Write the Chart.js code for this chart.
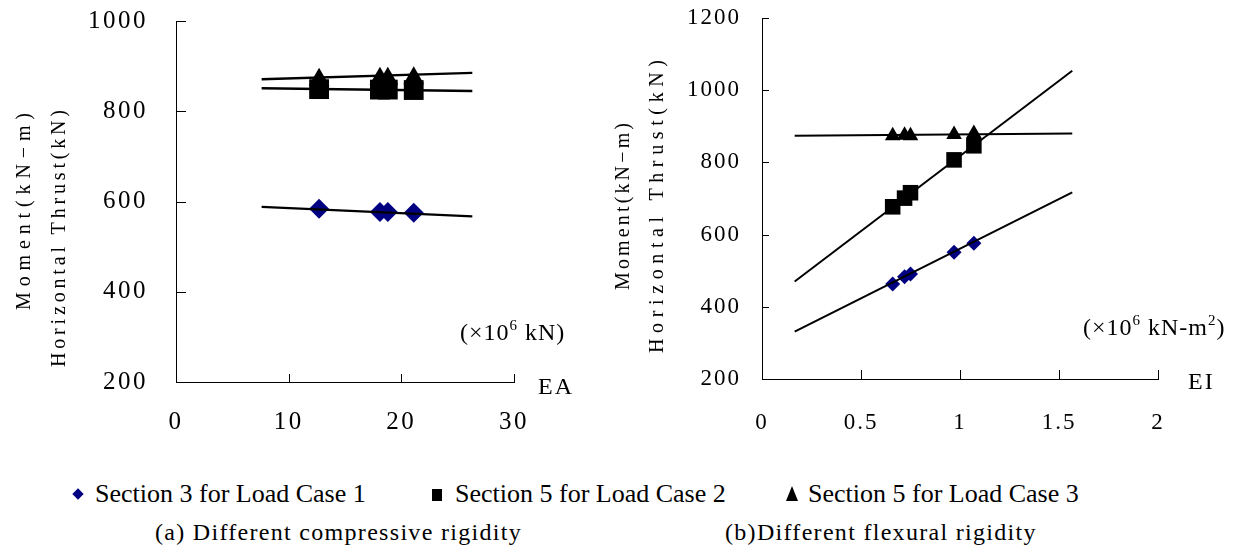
<!DOCTYPE html>
<html><head><meta charset="utf-8">
<script src="https://cdn.jsdelivr.net/npm/chart.js@4"></script>
<style>
html,body{margin:0;padding:0;background:#fff;}
#wrap{position:relative;width:1241px;height:550px;overflow:hidden;font-family:'Liberation Serif','Times New Roman',serif;color:#000;}
canvas{position:absolute;top:0;}
.t{position:absolute;white-space:nowrap;font-family:'Liberation Serif','Times New Roman',serif;}
sup{font-size:15px;vertical-align:10px;line-height:0;}
.unit{font-size:24px;line-height:24px;letter-spacing:1px;}
.axn{font-size:24px;line-height:24px;letter-spacing:2px;}
.leg{font-size:26px;line-height:26px;top:481px;}
.cap{font-size:24px;line-height:24px;letter-spacing:1.3px;top:520px;}
</style></head><body>
<div id="wrap">
<canvas id="cA" width="600" height="450" style="left:0"></canvas>
<canvas id="cB" width="641" height="450" style="left:600px"></canvas>
<div class="t unit" style="left:460px;top:320px">(×10<sup>6</sup> kN)</div>
<div class="t unit" style="left:1083px;top:315px">(×10<sup>6</sup> kN-m<sup>2</sup>)</div>
<div class="t axn" style="left:538px;top:374px">EA</div>
<div class="t axn" style="left:1188px;top:369px">EI</div>
<div class="t" style="left:74px;top:490px;width:8px;height:8px;background:#000080;transform:rotate(45deg)"></div>
<div class="t" style="left:432px;top:489px;width:10px;height:12px;background:#000"></div>
<div class="t" style="left:786px;top:486px;width:0;height:0;border-left:6px solid transparent;border-right:6px solid transparent;border-bottom:15px solid #000"></div>
<div class="t leg" id="l1" style="left:95px"></div>
<div class="t leg" id="l2" style="left:455px"></div>
<div class="t leg" id="l3" style="left:808px"></div>
<div class="t cap" style="left:155px">(a) Different compressive rigidity</div>
<div class="t cap" style="left:725px">(b)Different flexural rigidity</div>
</div>
<script>
// ---- data (a) different compressive rigidity ----
const seriesNames = ['Section 3 for Load Case 1', 'Section 5 for Load Case 2', 'Section 5 for Load Case 3'];
const eaValues = [12.7, 18.1, 18.8, 21.1];
const eaSection3LC1 = [584, 577, 577, 575];
const eaSection5LC2 = [849, 848, 848, 847];
const eaSection5LC3 = [870, 872, 872, 873];
const eaFitX = [7.6, 26.3];
const eaFitLC1 = [588, 567];
const eaFitLC2 = [851, 845];
const eaFitLC3 = [871, 885];
const eaXRange = [0, 30, 10];
const eaYRange = [200, 1000, 200];
// ---- data (b) different flexural rigidity ----
const eiValues = [0.66, 0.72, 0.75, 0.97, 1.07];
const eiSection3LC1 = [463, 483, 491, 551, 576];
const eiSection5LC2 = [677, 701, 716, 807, 846];
const eiSection5LC3 = [874, 875, 874, 877, 880];
const eiFitX = [0.165, 1.567];
const eiFitLC1 = [331, 717];
const eiFitLC2 = [470, 1054];
const eiFitLC3 = [874, 880];
const eiXRange = [0, 2, 0.5];
const eiYRange = [200, 1200, 200];
const yTitleLines = ['Moment(kN\u2212m)', 'Horizontal Thrust(kN)'];

document.getElementById('l1').textContent = seriesNames[0];
document.getElementById('l2').textContent = seriesNames[1];
document.getElementById('l3').textContent = seriesNames[2];

const pts = (xs, ys) => xs.map((x, i) => ({x: x, y: ys[i]}));
const SERIF = "'Liberation Serif','Times New Roman',serif";
const plain = v => String(Math.round(v * 1000) / 1000);

function makePlugin(cfg) {
  return {
    id: 'custom' + cfg.id,
    beforeUpdate(chart) { chart.ctx.letterSpacing = cfg.ls + 'px'; },
    beforeDraw(chart) { chart.ctx.letterSpacing = cfg.ls + 'px'; },
    afterDraw(chart) {
      const ctx = chart.ctx, xs = chart.scales.x, ys = chart.scales.y, a = chart.chartArea;
      ctx.save();
      ctx.letterSpacing = '0px';
      ctx.strokeStyle = '#000';
      ctx.lineWidth = 1;
      ctx.beginPath();
      xs.ticks.forEach(t => {
        const px = Math.round(xs.getPixelForValue(t.value)) + 0.5;
        ctx.moveTo(px, a.bottom); ctx.lineTo(px, a.bottom - cfg.xt);
      });
      ys.ticks.forEach(t => {
        const py = Math.round(ys.getPixelForValue(t.value)) + 0.5;
        ctx.moveTo(a.left, py); ctx.lineTo(a.left + cfg.yt, py);
      });
      ctx.stroke();
      ctx.fillStyle = '#000';
      cfg.titles.forEach((tt, i) => {
        const text = yTitleLines[i];
        ctx.save();
        ctx.font = '20px ' + SERIF;
        ctx.letterSpacing = '0px';
        const w0 = ctx.measureText(text).width;
        const ls = (tt.w - w0) / (text.length - 1);
        ctx.letterSpacing = ls + 'px';
        ctx.translate(tt.x, tt.y);
        ctx.rotate(-Math.PI / 2);
        ctx.textAlign = 'left';
        ctx.textBaseline = 'middle';
        ctx.fillText(text, -tt.w / 2, 0);
        ctx.restore();
      });
      ctx.restore();
    }
  };
}

function build(canvasId, cfg) {
  const W = cfg.W, H = cfg.H;
  const ds = [
    {label: seriesNames[0], data: pts(cfg.x, cfg.s1), pointStyle: 'rectRot', pointRadius: cfg.r[0], backgroundColor: '#000080', borderWidth: 0, order: 3},
    {label: seriesNames[1], data: pts(cfg.x, cfg.s2), pointStyle: 'rect', pointRadius: cfg.r[1], backgroundColor: '#000', borderWidth: 0, order: 2},
    {label: seriesNames[2], data: pts(cfg.x, cfg.s3), pointStyle: 'triangle', pointRadius: cfg.r[2], backgroundColor: '#000', borderWidth: 0, order: 1},
    {label: 'fit1', data: pts(cfg.fx, cfg.f1), showLine: true, pointRadius: 0, borderColor: '#000', borderWidth: cfg.lw, order: 0},
    {label: 'fit2', data: pts(cfg.fx, cfg.f2), showLine: true, pointRadius: 0, borderColor: '#000', borderWidth: cfg.lw, order: 0},
    {label: 'fit3', data: pts(cfg.fx, cfg.f3), showLine: true, pointRadius: 0, borderColor: '#000', borderWidth: cfg.lw, order: 0}
  ];
  return new Chart(document.getElementById(canvasId), {
    type: 'scatter',
    data: {datasets: ds},
    plugins: [makePlugin(cfg)],
    options: {
      responsive: false, animation: false, events: [],
      layout: {padding: {left: 0, top: cfg.area.top, right: W - cfg.area.right, bottom: 0}},
      plugins: {legend: {display: false}, tooltip: {enabled: false}},
      scales: {
        x: {
          type: 'linear', min: cfg.xr[0], max: cfg.xr[1],
          ticks: {stepSize: cfg.xr[2], padding: cfg.xpad, color: '#000', font: {family: SERIF, size: cfg.fs}, maxRotation: 0, callback: plain},
          grid: {display: false, drawTicks: false},
          border: {display: true, color: '#000', width: 1},
          afterFit: s => { s.height = H - cfg.area.bottom; s.paddingLeft = 0; s.paddingRight = 0; }
        },
        y: {
          type: 'linear', min: cfg.yr[0], max: cfg.yr[1],
          ticks: {stepSize: cfg.yr[2], padding: cfg.ypad, color: '#000', font: {family: SERIF, size: cfg.fs}, callback: plain},
          grid: {display: false, drawTicks: false},
          border: {display: true, color: '#000', width: 1},
          afterFit: s => { s.width = cfg.area.left; s.paddingTop = 0; s.paddingBottom = 0; }
        }
      }
    }
  });
}

build('cA', {
  id: 'A', W: 600, H: 450, area: {left: 176, right: 514, top: 21, bottom: 382},
  x: eaValues, s1: eaSection3LC1, s2: eaSection5LC2, s3: eaSection5LC3,
  fx: eaFitX, f1: eaFitLC1, f2: eaFitLC2, f3: eaFitLC3,
  xr: eaXRange, yr: eaYRange, r: [10, 14, 12], lw: 2.4, fs: 25, ls: 2.5,
  xpad: 25, ypad: 28, xt: 8, yt: 10,
  titles: [{x: 25, y: 211.5, w: 197}, {x: 60, y: 238.5, w: 257}]
});
build('cB', {
  id: 'B', W: 641, H: 450, area: {left: 162, right: 558, top: 18, bottom: 379},
  x: eiValues, s1: eiSection3LC1, s2: eiSection5LC2, s3: eiSection5LC3,
  fx: eiFitX, f1: eiFitLC1, f2: eiFitLC2, f3: eiFitLC3,
  xr: eiXRange, yr: eiYRange, r: [7.5, 11, 9], lw: 2, fs: 23, ls: 2,
  xpad: 30, ypad: 21, xt: 9, yt: 7,
  titles: [{x: 24, y: 206.5, w: 167}, {x: 58, y: 206.5, w: 293}]
});
</script>
</body></html>
